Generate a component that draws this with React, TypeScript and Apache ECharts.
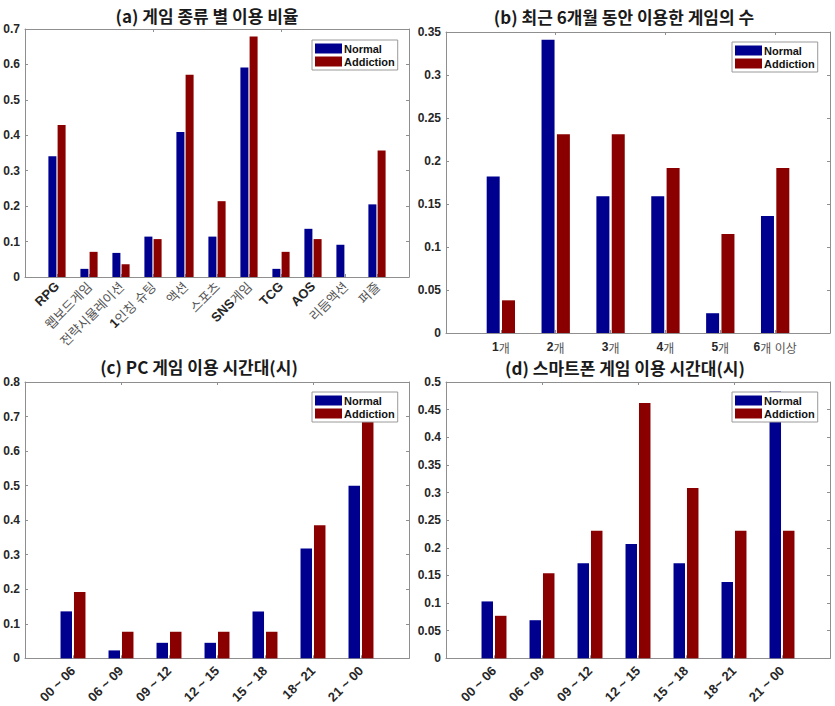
import React, { useEffect, useRef } from "react";
import * as echarts from "echarts";

const seriesNames = ["Normal", "Addiction"];
const normalColor = "#00008f";
const addictionColor = "#8a0000";

// (a) 게임 종류 별 이용 비율
const genreCategories = ["RPG", "웹보드게임", "전략시뮬레이션", "1인칭 슈팅", "액션", "스포츠", "SNS게임", "TCG", "AOS", "리듬액션", "퍼즐"];
const genreNormal = [0.341, 0.023, 0.068, 0.114, 0.409, 0.114, 0.591, 0.023, 0.136, 0.091, 0.205];
const genreAddiction = [0.429, 0.071, 0.036, 0.107, 0.571, 0.214, 0.679, 0.071, 0.107, 0, 0.357];

// (b) 최근 6개월 동안 이용한 게임의 수
const countCategories = ["1개", "2개", "3개", "4개", "5개", "6개 이상"];
const countNormal = [0.182, 0.341, 0.159, 0.159, 0.023, 0.136];
const countAddiction = [0.038, 0.231, 0.231, 0.192, 0.115, 0.192];

// (c) PC 게임 이용 시간대(시)  /  (d) 스마트폰 게임 이용 시간대(시)
const timeCategories = ["00 ~ 06", "06 ~ 09", "09 ~ 12", "12 ~ 15", "15 ~ 18", "18~ 21", "21 ~ 00"];
const pcNormal = [0.136, 0.023, 0.045, 0.045, 0.136, 0.318, 0.5];
const pcAddiction = [0.192, 0.077, 0.077, 0.077, 0.077, 0.385, 0.692];
const phoneNormal = [0.103, 0.069, 0.172, 0.207, 0.172, 0.138, 0.483];
const phoneAddiction = [0.077, 0.154, 0.231, 0.462, 0.308, 0.231, 0.231];

const titles = ["(a) 게임 종류 별 이용 비율", "(b) 최근 6개월 동안 이용한 게임의 수", "(c) PC 게임 이용 시간대(시)", "(d) 스마트폰 게임 이용 시간대(시)"];
const yMaxes = [0.7, 0.35, 0.8, 0.5];
const yIntervals = [0.1, 0.05, 0.1, 0.05];

const LATIN = '"Liberation Sans", Arial, sans-serif';
const KOREAN = '"Noto Sans CJK KR", sans-serif';
const AXIS_COLOR = "#8f8f8f";

function richLabel(s: string): string {
  const parts = s.match(/[\uAC00-\uD7A3]+|[^\uAC00-\uD7A3]+/g) || [];
  return parts.map((p) => (/[\uAC00-\uD7A3]/.test(p) ? `{k|${p}}` : `{b|${p}}`)).join("");
}

function makeRich(size: number) {
  return {
    b: { fontFamily: LATIN, fontWeight: "bold", fontSize: size, color: "#262626" },
    k: { fontFamily: KOREAN, fontWeight: "normal", fontSize: size, color: "#555555" },
  };
}

export default function App() {
  const ref = useRef<HTMLDivElement>(null);
  useEffect(() => {
    document.body.style.margin = "0";
    if (!ref.current) return;
    const chart = echarts.init(ref.current, undefined, { renderer: "svg" });

    const panels = [
      { cats: genreCategories, normal: genreNormal, addiction: genreAddiction, grid: { left: 25, top: 29, width: 384, height: 248 }, barWidth: 8, barGap: "15%", rotate: 45, labelMargin: 7, labelSize: 13, legend: { left: 312, top: 40 }, title: { x: 207, y: 15 } },
      { cats: countCategories, normal: countNormal, addiction: countAddiction, grid: { left: 446, top: 32, width: 384, height: 301 }, barWidth: 13, barGap: "18%", rotate: 0, labelMargin: 8, labelSize: 12, legend: { left: 732, top: 42 }, title: { x: 624, y: 16 } },
      { cats: timeCategories, normal: pcNormal, addiction: pcAddiction, grid: { left: 25, top: 382, width: 384, height: 279 }, barWidth: 11.5, barGap: "17%", rotate: 45, labelMargin: 10, labelSize: 13, legend: { left: 312, top: 392 }, title: { x: 199, y: 366 } },
      { cats: timeCategories, normal: phoneNormal, addiction: phoneAddiction, grid: { left: 446, top: 382, width: 384, height: 279 }, barWidth: 11.5, barGap: "17%", rotate: 45, labelMargin: 10, labelSize: 13, legend: { left: 732, top: 392 }, title: { x: 625, y: 367 } },
    ];

    const grids: any[] = [];
    const xAxes: any[] = [];
    const yAxes: any[] = [];
    const series: any[] = [];
    const legends: any[] = [];
    const graphics: any[] = [];

    panels.forEach((p, i) => {
      grids.push({ ...p.grid, containLabel: false });
      const padded = ["", ...p.cats, ""];
      const line = { show: true, onZero: false, lineStyle: { color: AXIS_COLOR, width: 1 } };
      const tick = { show: true, inside: true, length: 3, lineStyle: { color: AXIS_COLOR } };
      xAxes.push({
        type: "category", gridIndex: i, position: "bottom", data: padded, boundaryGap: false,
        axisLine: line, axisTick: tick,
        axisLabel: {
          show: true, interval: 0, rotate: p.rotate, margin: p.labelMargin,
          formatter: (v: string) => (v ? richLabel(v) : ""),
          rich: makeRich(p.labelSize),
        },
        splitLine: { show: false },
      });
      xAxes.push({
        type: "category", gridIndex: i, position: "top", data: padded, boundaryGap: false,
        axisLine: line, axisTick: tick, axisLabel: { show: false }, splitLine: { show: false },
      });
      yAxes.push({
        type: "value", gridIndex: i, position: "left", min: 0, max: yMaxes[i], interval: yIntervals[i],
        axisLine: line, axisTick: tick,
        axisLabel: {
          margin: 5, color: "#262626", fontFamily: LATIN, fontWeight: "bold", fontSize: 12,
          formatter: (v: number) => String(Number(v.toFixed(3))),
        },
        splitLine: { show: false },
      });
      yAxes.push({
        type: "value", gridIndex: i, position: "right", min: 0, max: yMaxes[i], interval: yIntervals[i],
        axisLine: line, axisTick: tick, axisLabel: { show: false }, splitLine: { show: false },
      });
      const values = [p.normal, p.addiction];
      seriesNames.forEach((name, k) => {
        series.push({
          type: "bar", name, xAxisIndex: i * 2, yAxisIndex: i * 2,
          data: [null, ...values[k], null],
          barWidth: p.barWidth, barGap: p.barGap,
          itemStyle: { color: k === 0 ? normalColor : addictionColor },
          z: 2,
        });
      });
      legends.push({
        data: seriesNames, orient: "vertical", left: p.legend.left, top: p.legend.top,
        itemWidth: 27, itemHeight: 10, itemGap: 2, padding: [3, 3, 3, 3],
        icon: "rect", backgroundColor: "#ffffff", borderColor: "#9a9a9a", borderWidth: 1,
        textStyle: { fontFamily: LATIN, fontWeight: "bold", fontSize: 11, color: "#111", padding: [0, 0, 0, -3] },
        itemStyle: { borderWidth: 0 },
        z: 10,
      });
      graphics.push({
        type: "text", x: p.title.x, y: p.title.y, z: 10,
        style: { text: titles[i], textAlign: "center", textVerticalAlign: "middle", font: `bold 17px ${KOREAN}`, fill: "#1a1a1a" },
      });
    });

    chart.setOption({
      animation: false,
      backgroundColor: "#ffffff",
      grid: grids,
      xAxis: xAxes,
      yAxis: yAxes,
      series,
      legend: legends,
      graphic: graphics,
    });
    return () => chart.dispose();
  }, []);
  return <div ref={ref} style={{ width: 835, height: 706 }} />;
}
